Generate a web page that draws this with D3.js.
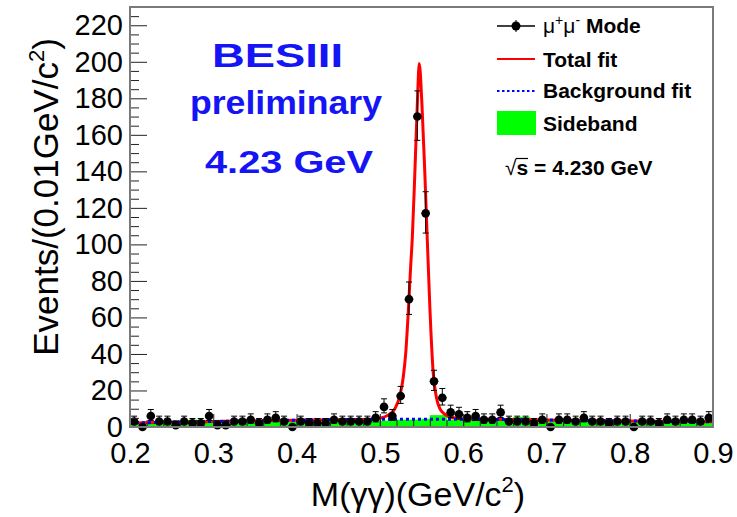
<!DOCTYPE html>
<html><head><meta charset="utf-8">
<script src="https://cdn.jsdelivr.net/npm/d3@7"></script>
<style>
body{margin:0;background:#fff}
svg{display:block}
text{font-family:"Liberation Sans",Arial,Helvetica,sans-serif}
</style>
</head><body>
<svg id="c" width="737" height="517"></svg>
<script>
// ---------------- data ----------------
const binLow = 0.2, binWidth = 0.01;
// mu+mu- mode events per 0.01 GeV bin (0.20 .. 0.90)
const counts = [
  3, 0, 6, 3, 3, 1, 3, 2, 2, 6,
  1, 1, 3, 3, 4, 2, 4, 5, 3, 0,
  3, 2, 2, 2, 4, 3, 3, 3, 3, 5,
  11, 6, 17, 70, 170, 117, 25, 16, 8, 7,
  5, 6, 4, 4, 8, 3, 3, 3, 2, 4,
  0, 4, 4, 3, 5, 3, 3, 2, 3, 3,
  0, 3, 3, 2, 4, 3, 4, 4, 3, 5
];
// sideband histogram
const sideband = [
  2, 2, 2.5, 2, 2, 2.5, 3.5, 4, 4, 3,
  2, 2, 2.5, 3, 3, 3, 3, 3.5, 3, 3,
  3, 3, 3, 3, 3, 3, 3, 3.5, 3.5, 3.5,
  3.5, 4, 4, 4, 4, 4.5, 6.5, 6.5, 4, 4,
  4, 4, 4, 4, 4, 4, 5.5, 5.5, 3.5, 3.5,
  3.5, 3.5, 3.5, 3.5, 3, 3, 3, 3, 3, 3,
  3, 3, 3, 3, 3, 3, 3, 3, 3, 3
];
// total fit curve [M, events]
const totalFit = [
  [0.200, 2.2], [0.250, 2.6], [0.300, 3.0], [0.350, 3.4], [0.400, 3.7],
  [0.450, 4.0], [0.490, 4.3], [0.500, 4.8], [0.510, 6.5], [0.518, 10],
  [0.524, 17], [0.528, 27], [0.531, 40], [0.534, 62], [0.537, 88],
  [0.539, 104], [0.542, 139], [0.545, 177], [0.5473, 199], [0.5505, 177],
  [0.554, 139], [0.557, 102], [0.560, 66], [0.564, 30], [0.568, 16],
  [0.572, 10], [0.578, 7], [0.585, 5.5], [0.592, 4.8], [0.600, 4.4],
  [0.650, 4.1], [0.700, 3.8], [0.750, 3.5], [0.800, 3.3], [0.850, 3.1],
  [0.900, 2.9]
];
// background fit curve
const bgFit = [
  [0.2, 2.2], [0.3, 3.0], [0.4, 3.7], [0.5, 4.2], [0.6, 4.3],
  [0.7, 3.8], [0.8, 3.3], [0.9, 2.9]
];
const xTicks = [0.2, 0.3, 0.4, 0.5, 0.6, 0.7, 0.8, 0.9];
const xTickLabels = ["0.2", "0.3", "0.4", "0.5", "0.6", "0.7", "0.8", "0.9"];
const yTicks = [0, 20, 40, 60, 80, 100, 120, 140, 160, 180, 200, 220];
const yTickLabels = ["0", "20", "40", "60", "80", "100", "120", "140", "160", "180", "200", "220"];

// ---------------- chart ----------------
const svg = d3.select("#c");
const L = 130, R = 713, T = 7, B = 427;
const x = d3.scaleLinear().domain([0.2, 0.9]).range([L, R]);
const y = d3.scaleLinear().domain([0, 230]).range([B, T]);

svg.append("defs").append("clipPath").attr("id", "clip")
  .append("rect").attr("x", L).attr("y", T).attr("width", R - L).attr("height", B - T);

const plot = svg.append("g").attr("clip-path", "url(#clip)");

// sideband histogram
plot.append("g").selectAll("rect").data(sideband).join("rect")
  .attr("x", (d, i) => x(binLow + i * binWidth))
  .attr("width", (d, i) => x(binLow + (i + 1) * binWidth) - x(binLow + i * binWidth) + 0.4)
  .attr("y", d => y(d))
  .attr("height", d => y(0) - y(d))
  .attr("fill", "#00ff00");

const line = d3.line().x(d => x(d[0])).y(d => y(d[1])).curve(d3.curveMonotoneX);

plot.append("path").datum(totalFit).attr("d", line)
  .attr("fill", "none").attr("stroke", "#ff0000").attr("stroke-width", 3);
plot.append("path").datum(bgFit).attr("d", line)
  .attr("fill", "none").attr("stroke", "#0000ff").attr("stroke-width", 3)
  .attr("stroke-dasharray", "3,3");

// data points with error bars
const pts = counts.map((n, i) => ({
  m: binLow + (i + 0.5) * binWidth,
  lo: binLow + i * binWidth,
  hi: binLow + (i + 1) * binWidth,
  n: n,
  eUp: n > 0 ? Math.sqrt(n + 0.75) + 1 : 0,
  eDn: n > 0 ? Math.sqrt(n - 0.25) : 0
}));
const pg = svg.append("g").attr("stroke", "#000").attr("stroke-width", 1);
const g = pg.selectAll("g").data(pts).join("g");
g.filter(d => d.n > 0).append("line")
  .attr("x1", d => x(d.m)).attr("x2", d => x(d.m))
  .attr("y1", d => y(d.n + d.eUp)).attr("y2", d => y(Math.max(0, d.n - d.eDn)));
g.filter(d => d.n > 0).append("line")
  .attr("x1", d => x(d.m) - 3).attr("x2", d => x(d.m) + 3)
  .attr("y1", d => y(d.n + d.eUp)).attr("y2", d => y(d.n + d.eUp));
g.filter(d => d.n > 0).append("line")
  .attr("x1", d => x(d.m) - 3).attr("x2", d => x(d.m) + 3)
  .attr("y1", d => y(d.n - d.eDn)).attr("y2", d => y(d.n - d.eDn));
g.append("line")
  .attr("x1", d => x(d.lo)).attr("x2", d => x(d.hi))
  .attr("y1", d => y(d.n)).attr("y2", d => y(d.n));
g.append("circle").attr("cx", d => x(d.m)).attr("cy", d => y(d.n)).attr("r", 4.3)
  .attr("fill", "#000").attr("stroke", "none");

// axes
const axG = svg.append("g");
axG.append("g").attr("transform", `translate(${L},0)`)
  .call(d3.axisLeft(y).tickValues(yTicks).tickSize(-17).tickPadding(7)
    .tickFormat((d, i) => yTickLabels[i]));
const yMinor = d3.range(0, 231, 5).filter(v => v % 20 !== 0);
axG.append("g").attr("transform", `translate(${L},0)`)
  .call(d3.axisLeft(y).tickValues(yMinor).tickSize(-9).tickFormat(""));
axG.append("g").attr("transform", `translate(0,${B})`)
  .call(d3.axisBottom(x).tickValues(xTicks).tickSize(-13).tickPadding(15)
    .tickFormat((d, i) => xTickLabels[i]));
const xMinor = d3.range(10, 46).map(k => k * 0.02);
axG.append("g").attr("transform", `translate(0,${B})`)
  .call(d3.axisBottom(x).tickValues(xMinor).tickSize(-7).tickFormat(""));
axG.selectAll(".domain").remove();
axG.selectAll(".tick line").attr("stroke", "#222").attr("stroke-width", 1);
axG.selectAll(".tick text").attr("font-size", 29).attr("fill", "#000")
  .attr("font-family", "Liberation Sans, Arial, sans-serif");

// frame
svg.append("rect").attr("x", L).attr("y", T).attr("width", R - L).attr("height", B - T)
  .attr("fill", "none").attr("stroke", "#7a7a7a").attr("stroke-width", 2);

// axis titles
const xt = svg.append("text").attr("x", 418).attr("y", 506).attr("text-anchor", "middle")
  .attr("font-size", 34);
xt.append("tspan").text("M(γγ)(GeV/c");
xt.append("tspan").text("2").attr("font-size", 22).attr("dy", -14);
xt.append("tspan").text(")").attr("dy", 14);

const yt = svg.append("text").attr("transform", "translate(58,197) rotate(-90)")
  .attr("text-anchor", "middle").attr("font-size", 35);
yt.append("tspan").text("Events/(0.01GeV/c");
yt.append("tspan").text("2").attr("font-size", 22).attr("dy", -14);
yt.append("tspan").text(")").attr("dy", 14);

// BESIII label
const blue = "#1414f5";
const bf = "'Comic Sans MS','DejaVu Sans',sans-serif";
svg.append("text").attr("x", 212).attr("y", 67).attr("font-size", 34).attr("font-weight", "bold")
  .attr("font-family", bf).attr("fill", blue).attr("textLength", 131).attr("lengthAdjust", "spacingAndGlyphs")
  .text("BESIII");
svg.append("text").attr("x", 190).attr("y", 114).attr("font-size", 33).attr("font-weight", "bold")
  .attr("font-family", bf).attr("fill", blue).attr("textLength", 192).attr("lengthAdjust", "spacingAndGlyphs")
  .text("preliminary");
svg.append("text").attr("x", 205).attr("y", 173).attr("font-size", 32).attr("font-weight", "bold")
  .attr("font-family", bf).attr("fill", blue).attr("textLength", 168).attr("lengthAdjust", "spacingAndGlyphs")
  .text("4.23 GeV");

// legend
const lg = svg.append("g");
const lx1 = 497, lx2 = 535, tx = 543;
lg.append("line").attr("x1", lx1).attr("x2", lx2).attr("y1", 26).attr("y2", 26).attr("stroke", "#000").attr("stroke-width", 1.5);
lg.append("line").attr("x1", 516).attr("x2", 516).attr("y1", 20).attr("y2", 32).attr("stroke", "#000").attr("stroke-width", 1);
lg.append("circle").attr("cx", 516).attr("cy", 26).attr("r", 4.5).attr("fill", "#000");
const t1 = lg.append("text").attr("x", tx).attr("y", 33).attr("font-size", 21);
t1.append("tspan").text("μ");
t1.append("tspan").text("+").attr("font-size", 14).attr("dy", -8);
t1.append("tspan").text("μ").attr("dy", 8);
t1.append("tspan").text("-").attr("font-size", 14).attr("dy", -8);
t1.append("tspan").text(" Mode").attr("dy", 8).attr("font-weight", "bold");

lg.append("line").attr("x1", lx1).attr("x2", lx2).attr("y1", 59).attr("y2", 59).attr("stroke", "#ff0000").attr("stroke-width", 2);
lg.append("text").attr("x", tx).attr("y", 67).attr("font-size", 21).attr("font-weight", "bold").text("Total fit");

lg.append("line").attr("x1", lx1).attr("x2", lx2).attr("y1", 91).attr("y2", 91).attr("stroke", "#0000ff").attr("stroke-width", 2).attr("stroke-dasharray", "2.5,2.5");
lg.append("text").attr("x", tx).attr("y", 98).attr("font-size", 21).attr("font-weight", "bold").text("Background fit");

lg.append("rect").attr("x", 497).attr("y", 111).attr("width", 39).attr("height", 24).attr("fill", "#00ff00");
lg.append("text").attr("x", tx).attr("y", 131).attr("font-size", 21).attr("font-weight", "bold").text("Sideband");

const ts = lg.append("text").attr("x", 505).attr("y", 175).attr("font-size", 21).attr("font-weight", "bold");
ts.append("tspan").text("√").attr("font-weight", "normal");
ts.append("tspan").text("s = 4.230 GeV");
// radical overline over "s"
lg.append("line").attr("x1", 516).attr("x2", 528).attr("y1", 158.5).attr("y2", 158.5)
  .attr("stroke", "#000").attr("stroke-width", 1.2);
</script>
</body></html>
